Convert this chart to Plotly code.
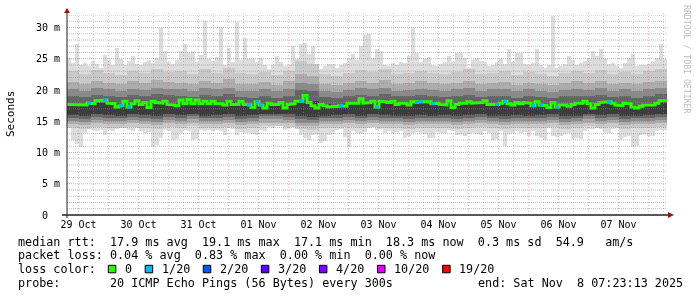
import plotly.graph_objects as go
import pandas as pd

# ---------------- data ----------------
END_TIME = "2025-11-08 07:23:13"
SPAN_DAYS = 10

# 150 bins (96 min each): outer smoke envelope (ms)
rtt_max = [
    25.2, 24.3, 27.4, 24.0, 24.4, 23.8, 24.6, 24.2, 23.5, 25.6,
    24.8, 24.0, 26.8, 25.0, 24.0, 24.6, 25.4, 24.2, 24.0, 24.5,
    24.8, 24.3, 25.2, 30.0, 26.3, 24.5, 24.2, 24.8, 26.3, 27.4,
    26.0, 26.2, 24.5, 25.6, 31.1, 25.0, 24.6, 25.3, 30.0, 24.0,
    26.8, 24.5, 30.9, 24.8, 28.4, 25.0, 25.0, 24.5, 25.2, 24.0,
    23.4, 24.0, 25.5, 24.5, 23.8, 24.0, 27.0, 25.0, 27.4, 27.6,
    25.8, 27.0, 24.0, 23.4, 23.8, 24.2, 24.2, 23.6, 24.0, 24.4,
    25.0, 25.8, 24.8, 27.0, 28.8, 29.0, 25.2, 26.5, 26.3, 24.0,
    23.8, 24.3, 24.0, 24.5, 24.4, 25.4, 30.0, 26.0, 24.5, 25.0,
    25.3, 24.0, 23.8, 24.2, 24.5, 25.4, 24.5, 26.0, 26.0, 25.2,
    23.6, 24.8, 25.2, 24.6, 24.5, 23.8, 24.0, 24.5, 25.0, 24.2,
    26.5, 24.5, 26.0, 26.0, 24.2, 24.0, 24.4, 26.5, 24.0, 23.5,
    24.0, 31.9, 23.6, 23.8, 24.2, 25.4, 24.8, 24.0, 24.4, 24.6,
    25.2, 26.3, 25.5, 26.5, 25.0, 24.2, 24.4, 23.9, 23.5, 24.3,
    25.2, 25.8, 23.9, 24.0, 24.0, 24.2, 24.6, 25.2, 27.4, 25.0,
]
rtt_min = [
    13.9, 12.0, 11.4, 10.9, 13.2, 13.8, 13.6, 13.5, 13.6, 12.8,
    13.6, 13.5, 13.8, 14.0, 13.9, 13.6, 13.5, 14.0, 13.4, 13.1,
    13.3, 10.9, 11.2, 12.3, 13.6, 13.5, 12.0, 12.2, 13.1, 13.6,
    13.5, 12.0, 12.2, 13.6, 13.5, 13.6, 13.4, 13.6, 13.4, 12.8,
    13.9, 13.8, 12.8, 13.3, 13.2, 13.1, 13.0, 12.8, 13.6, 13.5,
    14.1, 14.0, 14.3, 14.2, 13.6, 13.8, 14.1, 14.0, 12.8, 12.4,
    12.0, 12.8, 12.9, 11.5, 11.8, 12.8, 13.0, 13.6, 13.8, 12.5,
    10.9, 13.5, 13.2, 12.9, 13.3, 14.0, 14.1, 13.6, 13.8, 13.2,
    13.4, 13.1, 13.3, 13.4, 12.4, 12.6, 13.1, 13.3, 13.1, 12.9,
    12.3, 12.4, 13.3, 13.2, 13.1, 13.6, 13.5, 12.8, 12.9, 12.7,
    13.0, 13.1, 12.9, 12.8, 13.4, 13.2, 12.0, 12.2, 13.4, 11.0,
    12.9, 13.2, 13.4, 13.2, 13.3, 12.6, 13.5, 12.6, 12.4, 12.0,
    14.0, 12.6, 12.5, 12.7, 13.0, 13.2, 12.2, 12.3, 12.1, 13.4,
    13.8, 13.8, 13.9, 13.7, 13.2, 13.1, 13.8, 13.9, 12.0, 12.5,
    12.6, 10.9, 11.1, 12.8, 12.9, 12.6, 12.7, 13.5, 13.6, 13.6,
]
median_rtt = [
    17.7, 17.6, 17.7, 17.6, 17.6, 17.9, 17.8, 18.3, 18.4, 18.4,
    17.9, 17.8, 17.3, 17.5, 18.2, 17.3, 17.8, 18.3, 17.7, 18.0,
    17.2, 18.2, 18.0, 17.9, 18.2, 17.7, 17.6, 17.5, 18.4, 17.8,
    18.5, 17.8, 18.4, 17.8, 18.2, 17.8, 18.2, 17.8, 17.8, 17.6,
    18.2, 17.7, 17.7, 18.2, 17.7, 17.6, 17.2, 18.1, 17.6, 17.1,
    17.9, 17.7, 17.7, 18.0, 17.1, 17.7, 17.8, 18.2, 18.2, 19.1,
    18.0, 17.5, 17.1, 17.7, 17.5, 17.3, 17.3, 17.4, 17.5, 17.4,
    17.9, 18.0, 17.9, 18.6, 17.9, 18.0, 18.2, 17.3, 18.2, 18.1,
    18.0, 18.2, 17.7, 17.9, 17.9, 17.6, 18.1, 18.0, 18.1, 18.1,
    18.1, 17.8, 17.9, 17.7, 17.6, 18.3, 17.2, 17.7, 17.9, 17.9,
    18.1, 17.9, 18.0, 18.0, 18.3, 17.7, 17.6, 17.7, 17.9, 18.2,
    17.8, 17.6, 18.0, 17.8, 18.0, 17.9, 17.5, 18.1, 17.6, 17.5,
    17.2, 18.0, 17.3, 17.6, 17.6, 17.4, 17.7, 17.9, 17.9, 18.2,
    17.8, 17.1, 17.7, 18.0, 18.0, 18.1, 17.9, 17.6, 17.5, 17.9,
    17.8, 17.3, 17.1, 17.4, 17.6, 17.6, 17.6, 17.9, 18.3, 18.3,
]
# lost pings out of 20, per bin
loss_count = [
    0, 0, 0, 0, 0, 1, 0, 0, 0, 1,
    0, 0, 0, 1, 0, 1, 0, 0, 0, 0,
    0, 0, 0, 0, 0, 0, 0, 0, 0, 0,
    0, 0, 0, 0, 0, 0, 0, 0, 0, 0,
    0, 0, 0, 0, 0, 1, 0, 1, 1, 0,
    0, 0, 0, 0, 0, 0, 0, 0, 1, 0,
    0, 0, 0, 0, 0, 0, 0, 0, 1, 0,
    0, 0, 0, 0, 0, 0, 0, 1, 0, 0,
    0, 0, 0, 0, 0, 0, 0, 1, 1, 0,
    0, 1, 0, 0, 0, 0, 0, 0, 0, 0,
    0, 0, 0, 0, 0, 0, 0, 1, 0, 1,
    0, 0, 0, 0, 0, 0, 1, 0, 1, 0,
    0, 0, 1, 0, 0, 0, 0, 0, 0, 0,
    0, 0, 0, 0, 0, 1, 0, 0, 0, 0,
    0, 0, 0, 0, 0, 0, 0, 0, 0, 0,
]

# 50 coarser bins (4.8 h each): inner smoke bands, outer -> inner
band2_hi = [23.0, 22.6, 23.2, 22.8, 22.4, 23.0, 22.7, 23.4, 22.9, 23.1,
            22.6, 23.3, 22.8, 23.5, 22.7, 22.5, 22.9, 22.4, 23.0, 24.6,
            24.2, 22.6, 22.3, 22.8, 23.2, 22.9, 23.4, 22.6, 22.8, 23.1,
            22.7, 22.5, 22.9, 23.3, 22.6, 22.8, 23.0, 22.4, 22.9, 22.6,
            22.3, 22.8, 23.1, 22.7, 23.2, 22.6, 22.9, 22.5, 23.0, 23.3]
band2_lo = [14.0, 13.8, 14.1, 14.0, 13.9, 14.1, 14.0, 13.8, 14.1, 14.0,
            14.2, 13.9, 14.0, 14.1, 13.8, 14.0, 14.2, 14.3, 14.1, 13.7,
            13.6, 13.9, 14.0, 14.1, 13.9, 14.1, 14.0, 13.9, 13.8, 14.0,
            13.9, 14.0, 13.8, 14.0, 14.1, 13.9, 13.8, 14.0, 13.9, 14.0,
            14.1, 13.8, 13.9, 14.2, 14.0, 14.1, 13.8, 13.9, 14.0, 14.1]
band3_hi = [21.3, 21.0, 21.5, 21.2, 20.9, 21.4, 21.1, 21.6, 21.3, 21.2,
            21.0, 21.5, 21.2, 21.7, 21.0, 20.9, 21.3, 20.8, 21.4, 22.6,
            22.3, 21.0, 20.8, 21.2, 21.5, 21.2, 21.6, 21.0, 21.1, 21.4,
            21.1, 20.9, 21.2, 21.5, 21.0, 21.2, 21.3, 20.8, 21.2, 21.0,
            20.8, 21.2, 21.4, 21.1, 21.5, 21.0, 21.2, 20.9, 21.3, 21.5]
band3_lo = [14.6, 14.4, 14.7, 14.6, 14.5, 14.7, 14.6, 14.4, 14.7, 14.6,
            14.8, 14.5, 14.6, 14.7, 14.4, 14.6, 14.8, 14.8, 14.7, 14.3,
            14.2, 14.5, 14.6, 14.7, 14.5, 14.7, 14.6, 14.5, 14.4, 14.6,
            14.5, 14.6, 14.4, 14.6, 14.7, 14.5, 14.4, 14.6, 14.5, 14.6,
            14.7, 14.4, 14.5, 14.8, 14.6, 14.7, 14.4, 14.5, 14.6, 14.7]
band4_hi = [20.2, 19.9, 20.3, 20.1, 19.8, 20.2, 20.0, 20.4, 20.2, 20.1,
            19.9, 20.3, 20.1, 20.4, 19.9, 19.8, 20.1, 19.8, 20.2, 21.2,
            20.9, 19.9, 19.7, 20.0, 20.3, 20.1, 20.4, 19.9, 20.0, 20.2,
            20.0, 19.8, 20.1, 20.3, 19.9, 20.1, 20.2, 19.8, 20.1, 19.9,
            19.7, 20.0, 20.2, 20.0, 20.3, 19.9, 20.1, 19.8, 20.2, 20.3]
band4_lo = [15.1, 14.9, 15.2, 15.1, 15.0, 15.2, 15.1, 14.9, 15.2, 15.1,
            15.3, 15.0, 15.1, 15.2, 14.9, 15.1, 15.3, 15.3, 15.2, 14.8,
            14.7, 15.0, 15.1, 15.2, 15.0, 15.2, 15.1, 15.0, 14.9, 15.1,
            15.0, 15.1, 14.9, 15.1, 15.2, 15.0, 14.9, 15.1, 15.0, 15.1,
            15.2, 14.9, 15.0, 15.3, 15.1, 15.2, 14.9, 15.0, 15.1, 15.2]
band5_hi = [19.1, 18.9, 19.2, 19.1, 18.9, 19.2, 19.0, 19.3, 19.2, 19.1,
            18.9, 19.2, 19.1, 19.3, 18.9, 18.8, 19.1, 18.8, 19.1, 20.0,
            19.8, 18.9, 18.7, 19.0, 19.2, 19.1, 19.3, 19.0, 19.0, 19.2,
            19.0, 18.9, 19.1, 19.2, 18.9, 19.1, 19.1, 18.8, 19.0, 18.9,
            18.8, 19.0, 19.1, 19.0, 19.2, 18.9, 19.0, 18.8, 19.1, 19.3]
band5_lo = [15.6, 15.4, 15.7, 15.6, 15.5, 15.7, 15.6, 15.4, 15.7, 15.6,
            15.8, 15.5, 15.6, 15.7, 15.4, 15.6, 15.8, 15.8, 15.7, 15.3,
            15.2, 15.5, 15.6, 15.7, 15.5, 15.7, 15.6, 15.5, 15.4, 15.6,
            15.5, 15.6, 15.4, 15.6, 15.7, 15.5, 15.4, 15.6, 15.5, 15.6,
            15.7, 15.4, 15.5, 15.8, 15.6, 15.7, 15.4, 15.5, 15.6, 15.7]
band6_hi = [17.9, 17.7, 18.0, 17.9, 17.8, 18.0, 17.8, 18.1, 17.9, 17.9,
            17.7, 18.0, 17.9, 18.1, 17.7, 17.6, 17.9, 17.6, 17.9, 18.4,
            18.2, 17.7, 17.5, 17.8, 18.0, 17.9, 18.1, 17.8, 17.8, 18.0,
            17.8, 17.7, 17.9, 18.0, 17.7, 17.9, 17.9, 17.6, 17.8, 17.7,
            17.6, 17.8, 17.9, 17.8, 18.0, 17.7, 17.8, 17.6, 17.9, 18.1]
band6_lo = [16.0, 15.9, 16.1, 16.0, 15.9, 16.1, 16.0, 15.9, 16.1, 16.0,
            16.1, 15.9, 16.0, 16.1, 15.8, 16.0, 16.1, 16.2, 16.1, 15.8,
            15.7, 15.9, 16.0, 16.1, 15.9, 16.1, 16.0, 15.9, 15.8, 16.0,
            15.9, 16.0, 15.8, 16.0, 16.1, 15.9, 15.8, 16.0, 15.9, 16.0,
            16.1, 15.8, 15.9, 16.1, 16.0, 16.1, 15.8, 15.9, 16.0, 16.1]

day_labels = ["29 Oct", "30 Oct", "31 Oct", "01 Nov", "02 Nov",
              "03 Nov", "04 Nov", "05 Nov", "06 Nov", "07 Nov"]
day_label_times = ["2025-10-29 12:00", "2025-10-30 12:00", "2025-10-31 12:00",
                   "2025-11-01 12:00", "2025-11-02 12:00", "2025-11-03 12:00",
                   "2025-11-04 12:00", "2025-11-05 12:00", "2025-11-06 12:00",
                   "2025-11-07 12:00"]
y_tick_vals = [0, 5, 10, 15, 20, 25, 30]
y_tick_text = ["0  ", "5 m", "10 m", "15 m", "20 m", "25 m", "30 m"]

loss_levels = [0, 1, 2, 3, 4, 10, 19]
loss_labels = ["0", "1/20", "2/20", "3/20", "4/20", "10/20", "19/20"]
loss_colors = ["#26ff00", "#00b8ff", "#0059ff", "#5e00ff", "#7e00ff", "#dd00ff", "#ff0000"]

legend_line1 = "median rtt:  17.9 ms avg  19.1 ms max  17.1 ms min  18.3 ms now  0.3 ms sd  54.9   am/s"
legend_line2 = "packet loss: 0.04 % avg  0.83 % max  0.00 % min  0.00 % now"
legend_line3 = "loss color:"
legend_line4 = "probe:       20 ICMP Echo Pings (56 Bytes) every 300s"
legend_end = "end: Sat Nov  8 07:23:13 2025"
watermark = "RRDTOOL / TOBI OETIKER"
y_title = "Seconds"

# ---------------- geometry / style ----------------
W, H = 697, 297
PL, PR, PT, PB = 67, 667, 15, 215   # plot area in pixels
Y_MAX = 32
MONO = "DejaVu Sans Mono"
SMOKE = ["#dddddd", "#c9c9c9", "#adadad", "#8a8a8a", "#646464", "#3c3c3c"]
GRID_MIN = "rgba(140,140,140,0.55)"
GRID_MAJ = "rgba(222,80,80,0.55)"
VGRID_MIN = "rgba(140,140,140,0.45)"
VGRID_MAJ = "rgba(222,80,80,0.4)"
AXIS_COL = "#202020"
ARROW_COL = "#8b1c1c"


def px(x):
    return (x - PL) / (PR - PL)


def py(y):
    return (PB - y) / (PB - PT)


def nb(s):
    return s.replace(" ", "\u00a0")


end = pd.Timestamp(END_TIME)
start = end - pd.Timedelta(days=SPAN_DAYS)

fig = go.Figure()


def add_band(lo, hi, color):
    n = len(lo)
    w = (end - start) / n
    centers = [start + w * (i + 0.5) for i in range(n)]
    fig.add_trace(go.Bar(
        x=centers, base=lo, y=[h - l for h, l in zip(hi, lo)],
        width=w.total_seconds() * 1000,
        marker=dict(color=color, line=dict(width=0)),
        opacity=1, showlegend=False, hoverinfo="skip"))


add_band(rtt_min, rtt_max, SMOKE[0])
add_band(band2_lo, band2_hi, SMOKE[1])
add_band(band3_lo, band3_hi, SMOKE[2])
add_band(band4_lo, band4_hi, SMOKE[3])
add_band(band5_lo, band5_hi, SMOKE[4])
add_band(band6_lo, band6_hi, SMOKE[5])

# median step line, coloured by loss
n = len(median_rtt)
bw = (end - start) / n
xs, ys = [], []
for i, m in enumerate(median_rtt):
    xs += [start + bw * i, start + bw * (i + 1)]
    ys += [m, m]
fig.add_trace(go.Scatter(x=xs, y=ys, mode="lines",
                         line=dict(color=loss_colors[0], width=3),
                         showlegend=False, hoverinfo="skip"))
for lvl, col in zip(loss_levels[1:], loss_colors[1:]):
    sx, sy = [], []
    for i, (m, lc) in enumerate(zip(median_rtt, loss_count)):
        if lc == lvl:
            sx += [start + bw * i, start + bw * (i + 1), None]
            sy += [m, m, None]
    if sx:
        fig.add_trace(go.Scatter(x=sx, y=sy, mode="lines",
                                 line=dict(color=col, width=3),
                                 showlegend=False, hoverinfo="skip"))

shapes = []
# horizontal grid
for v in range(1, Y_MAX + 1):
    shapes.append(dict(type="line", xref="paper", yref="y", x0=0, x1=1, y0=v, y1=v,
                       line=dict(color=GRID_MAJ if v % 5 == 0 else GRID_MIN, width=1,
                                 dash="1px,1px"), layer="above"))
# vertical grid (6 h minor, midnight major)
t = start.ceil("6h")
while t < end:
    shapes.append(dict(type="line", xref="x", yref="paper", x0=t, x1=t, y0=0, y1=1.01,
                       line=dict(color=VGRID_MAJ if t.hour == 0 else VGRID_MIN, width=1,
                                 dash="1px,2px"), layer="above"))
    t += pd.Timedelta(hours=6)

# axes with arrows
shapes.append(dict(type="line", xref="paper", yref="paper", x0=px(62), x1=px(669),
                   y0=0, y1=0, line=dict(color=AXIS_COL, width=1.5), layer="above"))
shapes.append(dict(type="line", xref="paper", yref="paper", x0=0, x1=0,
                   y0=py(218), y1=py(12), line=dict(color=AXIS_COL, width=1), layer="above"))
shapes.append(dict(type="path", xref="paper", yref="paper",
                   path=f"M {px(67)},{py(8)} L {px(64)},{py(13)} L {px(70)},{py(13)} Z",
                   fillcolor=ARROW_COL, line=dict(width=0), layer="above"))
shapes.append(dict(type="path", xref="paper", yref="paper",
                   path=f"M {px(674)},{py(215)} L {px(668)},{py(212)} L {px(668)},{py(218)} Z",
                   fillcolor=ARROW_COL, line=dict(width=0), layer="above"))

annotations = []
CW = 7.07  # legend character width in px
LX = 16


def txt(s, x, y, size=11.75, **kw):
    d = dict(text=nb(s), x=px(x), y=py(y), xref="paper", yref="paper",
             showarrow=False, xanchor="left", yanchor="middle",
             font=dict(family=MONO, size=size, color="#000000"))
    d.update(kw)
    annotations.append(d)


txt(legend_line1, LX, 241.5)
txt(legend_line2, LX, 255.3)
txt(legend_line3, LX, 269)
txt(legend_line4, LX, 282.7)
txt(legend_end, LX + 65 * CW, 282.7)

# loss colour boxes
bx = 108.3
for lab, col in zip(loss_labels, loss_colors):
    shapes.append(dict(type="rect", xref="paper", yref="paper",
                       x0=px(bx), x1=px(bx + 7.5), y0=py(265.3), y1=py(272.8),
                       fillcolor=col, line=dict(color="#000000", width=1), layer="above"))
    lx = bx + 14.5
    txt(lab, lx, 269)
    bx = lx + len(lab) * CW + 15.3

annotations.append(dict(text=y_title, x=px(10), y=py(114), xref="paper", yref="paper",
                        showarrow=False, textangle=-90, xanchor="center", yanchor="middle",
                        font=dict(family=MONO, size=11, color="#000000")))
annotations.append(dict(text=nb(watermark), x=px(687), y=py(59), xref="paper", yref="paper",
                        showarrow=False, textangle=90, xanchor="center", yanchor="middle",
                        font=dict(family=MONO, size=8.2, color="#bdbdbd")))

fig.update_layout(
    width=W, height=H,
    margin=dict(l=PL, r=W - PR, t=PT, b=H - PB, pad=0),
    paper_bgcolor="#ffffff", plot_bgcolor="#ffffff",
    barmode="overlay", bargap=0, showlegend=False,
    shapes=shapes, annotations=annotations,
    font=dict(family=MONO, size=10, color="#000000"),
    xaxis=dict(type="date", range=[start, end], showgrid=False, zeroline=False,
               showline=False, tickvals=day_label_times, ticktext=day_labels,
               ticks="", ticklabelstandoff=2,
               tickfont=dict(family=MONO, size=10, color="#000000"),
               fixedrange=True),
    yaxis=dict(range=[0, Y_MAX], showgrid=False, zeroline=False, showline=False,
               tickvals=y_tick_vals, ticktext=[nb(s) for s in y_tick_text],
               ticks="", ticklabelstandoff=6,
               tickfont=dict(family=MONO, size=10, color="#000000"),
               fixedrange=True),
)

# grayscale text antialiasing like rrdtool
GRAY_TEXT_JS = ("var s=document.createElement('style');"
                "s.textContent='.main-svg text{filter:grayscale(1);}';"
                "document.head.appendChild(s);")

fig.write_html("out.html", post_script=GRAY_TEXT_JS)
